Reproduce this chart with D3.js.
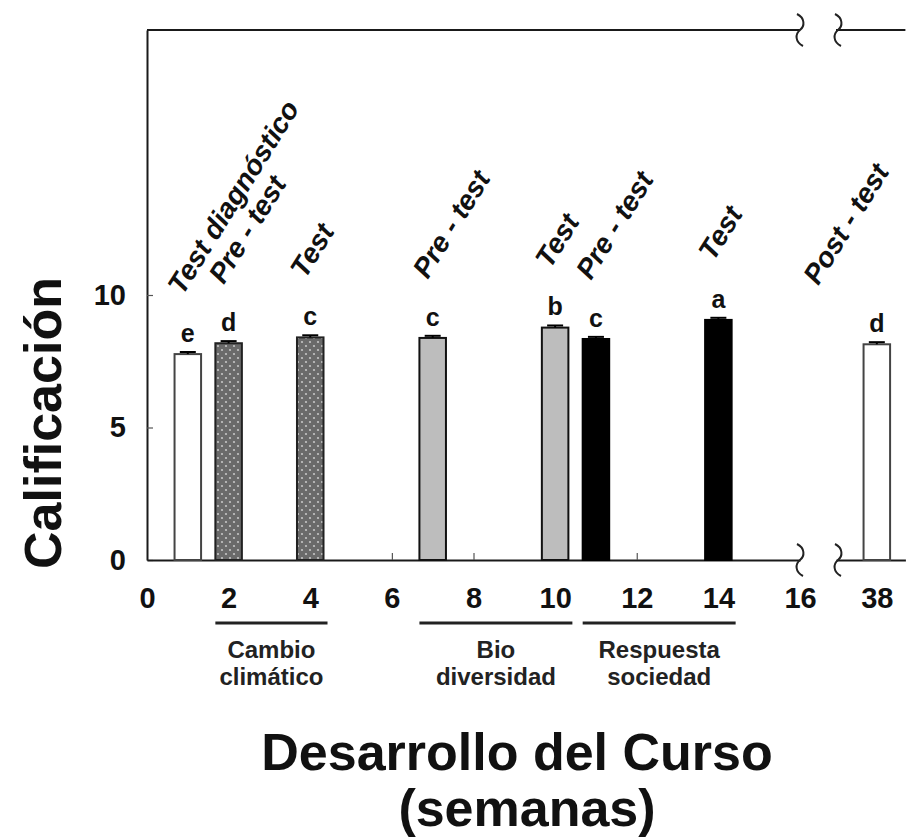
<!DOCTYPE html>
<html>
<head>
<meta charset="utf-8">
<script src="https://cdn.jsdelivr.net/npm/d3@7"></script>
<style>
    body { margin: 0; background: #fff; }
    svg { display: block; font-family: "Liberation Sans", Arial, sans-serif; }
</style>
</head>
<body>
<svg id="chart" width="906" height="838"></svg>
<script>

// data
var weeks   = [1, 2, 4, 7, 10, 11, 14, 38];
var scores  = [7.77, 8.18, 8.40, 8.38, 8.77, 8.34, 9.06, 8.14];
var errors  = [0.08, 0.08, 0.08, 0.08, 0.08, 0.08, 0.08, 0.08];
var letters = ["e", "d", "c", "c", "b", "c", "a", "d"];
var tests   = ["Test diagnóstico", "Pre - test", "Test", "Pre - test", "Test", "Pre - test", "Test", "Post - test"];
var units   = ["diag", "cambio", "cambio", "bio", "bio", "respuesta", "respuesta", "post"];

var groupNames = [["Cambio", "climático"], ["Bio", "diversidad"], ["Respuesta", "sociedad"]];
var groupWeeks = [[2, 4], [7, 10], [11, 14]];

var xTicksLeft  = [0, 2, 4, 6, 8, 10, 12, 14, 16];
var xTicksRight = [38];
var yTicks      = [0, 5, 10];

var yTitle = "Calificación";
var xTitle = ["Desarrollo del Curso", "(semanas)"];

var svg = d3.select("#chart");

// broken x axis: weeks 0-16, then a short piece around week 38
var xLeft = d3.scaleLinear().domain([0, 16]).range([147, 800]);
var xRight = d3.scaleLinear().domain([37, 38.7]).range([836, 905.4]);
var y = d3.scaleLinear().domain([0, 20]).range([560, 30]);

function xPos(w) {
    return w <= 16 ? xLeft(w) : xRight(w);
}

var barWidth = xLeft(0.65) - xLeft(0);

// stipple pattern for the "cambio climático" bars
var pat = svg.append("defs").append("pattern")
    .attr("id", "dots")
    .attr("patternUnits", "userSpaceOnUse")
    .attr("width", 8)
    .attr("height", 8);
pat.append("rect").attr("width", 8).attr("height", 8).attr("fill", "#6a6a6a");
pat.append("circle").attr("cx", 2).attr("cy", 2).attr("r", 1.1).attr("fill", "#c4c4c4");
pat.append("circle").attr("cx", 6).attr("cy", 6).attr("r", 1.1).attr("fill", "#c4c4c4");

var fillFor = {
    diag: "#fff", post: "#fff", cambio: "url(#dots)", bio: "#bdbdbd", respuesta: "#000"
};
var strokeFor = {
    diag: "#444", post: "#444", cambio: "#222", bio: "#111", respuesta: "#000"
};

var bars = weeks.map(function(w, i) {
    return { week: w, score: scores[i], err: errors[i], letter: letters[i], test: tests[i], unit: units[i] };
});

// y axis (ticks pointing inwards)
var yAxis = svg.append("g")
    .attr("transform", "translate(147,0)")
    .call(d3.axisLeft(y).tickValues(yTicks).tickSizeInner(-6).tickSizeOuter(0).tickPadding(21));

// x axis pieces
var xAxisLeft = svg.append("g")
    .attr("transform", "translate(0,560)")
    .call(d3.axisBottom(xLeft).tickValues(xTicksLeft).tickSizeInner(-7).tickSizeOuter(0).tickPadding(27));

var xAxisRight = svg.append("g")
    .attr("transform", "translate(0,560)")
    .call(d3.axisBottom(xRight).tickValues(xTicksRight).tickFormat(d3.format("d"))
        .tickSizeInner(-7).tickSizeOuter(0).tickPadding(27));

[yAxis, xAxisLeft, xAxisRight].forEach(function(g) {
    g.select(".domain").attr("stroke", "#1a1a1a").attr("stroke-width", 2);
    g.selectAll(".tick line").attr("stroke", "#555").attr("stroke-width", 1.2);
    g.selectAll(".tick text")
        .attr("fill", "#111")
        .style("font-size", "29px")
        .style("font-weight", "bold")
        .style("font-family", "'Liberation Sans', Arial, sans-serif");
});
xAxisLeft.selectAll(".tick").filter(function(d) { return d === 0 || d === 16; }).select("line").remove();

// top border of the frame
svg.append("line")
    .attr("x1", xLeft(0)).attr("x2", xLeft(16))
    .attr("y1", y(20)).attr("y2", y(20))
    .attr("stroke", "#1a1a1a").attr("stroke-width", 2);
svg.append("line")
    .attr("x1", xRight(37)).attr("x2", xRight(38.7))
    .attr("y1", y(20)).attr("y2", y(20))
    .attr("stroke", "#1a1a1a").attr("stroke-width", 2);

// axis break marks
var squiggle = "M-3,-16 C5,-12 5,-4 0,0 C-5,4 -5,12 3,16";
[[xLeft(16), y(20)], [xRight(37) + 2, y(20)], [xLeft(16), y(0)], [xRight(37) + 2, y(0)]].forEach(function(p) {
    svg.append("path")
        .attr("d", squiggle)
        .attr("transform", "translate(" + p[0] + "," + p[1] + ")")
        .attr("fill", "none")
        .attr("stroke", "#222")
        .attr("stroke-width", 2);
});

// bars
svg.selectAll("rect.bar")
    .data(bars)
    .enter().append("rect")
    .attr("class", "bar")
    .attr("x", function(d) { return xPos(d.week) - barWidth / 2; })
    .attr("y", function(d) { return y(d.score); })
    .attr("width", barWidth)
    .attr("height", function(d) { return y(0) - y(d.score); })
    .attr("fill", function(d) { return fillFor[d.unit]; })
    .attr("stroke", function(d) { return strokeFor[d.unit]; })
    .attr("stroke-width", 2);

// small error caps
var caps = svg.selectAll("g.err")
    .data(bars)
    .enter().append("g")
    .attr("class", "err");
caps.append("line")
    .attr("x1", function(d) { return xPos(d.week); })
    .attr("x2", function(d) { return xPos(d.week); })
    .attr("y1", function(d) { return y(d.score); })
    .attr("y2", function(d) { return y(d.score + d.err); })
    .attr("stroke", "#000").attr("stroke-width", 2);
caps.append("line")
    .attr("x1", function(d) { return xPos(d.week) - 8; })
    .attr("x2", function(d) { return xPos(d.week) + 8; })
    .attr("y1", function(d) { return y(d.score + d.err); })
    .attr("y2", function(d) { return y(d.score + d.err); })
    .attr("stroke", "#000").attr("stroke-width", 2);

// significance letters
svg.selectAll("text.letter")
    .data(bars)
    .enter().append("text")
    .attr("class", "letter")
    .attr("x", function(d) { return xPos(d.week); })
    .attr("y", function(d) { return y(d.score + d.err) - 10; })
    .attr("text-anchor", "middle")
    .style("font-size", "25px")
    .style("font-weight", "bold")
    .attr("fill", "#111")
    .text(function(d) { return d.letter; });

// slanted test names, kept inside the picture on the right
var angle = 58;
svg.selectAll("text.test")
    .data(bars)
    .enter().append("text")
    .attr("class", "test")
    .style("font-size", "28px")
    .style("font-weight", "bold")
    .style("font-style", "italic")
    .attr("fill", "#111")
    .text(function(d) { return d.test; })
    .attr("transform", function(d) {
        var len = this.getComputedTextLength();
        var x0 = xPos(d.week) - 5;
        var reach = len * Math.cos(angle * Math.PI / 180) + 12;
        if (x0 + reach > 902) { x0 = 902 - reach; }
        return "translate(" + x0 + "," + (y(d.score) - 58) + ") rotate(" + (-angle) + ")";
    });

// unit brackets under the axis
groupWeeks.forEach(function(g, i) {
    var x1 = xPos(g[0]) - barWidth / 2;
    var x2 = xPos(g[1]) + barWidth / 2 + 4;
    svg.append("line")
        .attr("x1", x1).attr("x2", x2)
        .attr("y1", 623).attr("y2", 623)
        .attr("stroke", "#222").attr("stroke-width", 3);
    var t = svg.append("text")
        .attr("text-anchor", "middle")
        .style("font-size", "24px")
        .style("font-weight", "bold")
        .attr("fill", "#222");
    groupNames[i].forEach(function(line, j) {
        t.append("tspan")
            .attr("x", (x1 + x2) / 2)
            .attr("y", 658 + j * 27)
            .text(line);
    });
});

// axis titles
svg.append("text")
    .attr("transform", "translate(61,423) rotate(-90)")
    .attr("text-anchor", "middle")
    .style("font-size", "52px")
    .style("font-weight", "bold")
    .attr("fill", "#111")
    .text(yTitle);

svg.append("text")
    .attr("x", 517).attr("y", 770)
    .attr("text-anchor", "middle")
    .style("font-size", "52px")
    .style("font-weight", "bold")
    .attr("fill", "#111")
    .text(xTitle[0]);
svg.append("text")
    .attr("x", 527).attr("y", 826)
    .attr("text-anchor", "middle")
    .style("font-size", "52px")
    .style("font-weight", "bold")
    .attr("fill", "#111")
    .text(xTitle[1]);

</script>
</body>
</html>
